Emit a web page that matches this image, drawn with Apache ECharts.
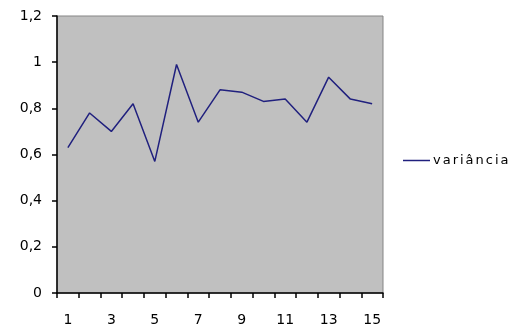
<!DOCTYPE html>
<html>
<head>
<meta charset="utf-8">
<script src="https://cdn.jsdelivr.net/npm/echarts@6/dist/echarts.min.js"></script>
<style>
  html, body { margin: 0; padding: 0; background: #ffffff; }
  #chart { width: 515px; height: 333px; }
</style>
</head>
<body>
<div id="chart"></div>
<script>
// Sample index along the x axis
const categories = ['1','2','3','4','5','6','7','8','9','10','11','12','13','14','15'];
// Variance per sample
const seriesName = 'variância';
const varianceValues = [0.63, 0.78, 0.70, 0.82, 0.57, 0.99, 0.74, 0.88, 0.87, 0.83, 0.84, 0.74, 0.935, 0.84, 0.82];
// Value axis range and step
const yMin = 0, yMax = 1.2, yStep = 0.2;

// Wrap each character in its own rich token so the legend letters can be spaced out
const spaced = (str, style) => String(str).split('').map(c => '{' + style + '|' + c + '}').join('');

const FONT = 'DejaVu Sans, Verdana, sans-serif';

const chart = echarts.init(document.getElementById('chart'), null, { renderer: 'canvas' });
chart.setOption({
  animation: false,
  backgroundColor: '#ffffff',
  textStyle: { fontFamily: FONT },
  grid: {
    left: 57, top: 16, width: 326, height: 277,
    show: true, backgroundColor: '#c0c0c0',
    borderColor: '#858585', borderWidth: 1
  },
  legend: {
    show: true,
    left: 398, top: 149,
    orient: 'vertical',
    icon: 'rect',
    itemWidth: 27, itemHeight: 1.5,
    itemGap: 0,
    formatter: name => spaced(name, 'l'),
    textStyle: {
      color: '#000000', fontSize: 13, fontFamily: FONT, padding: [0, 0, 0, -3],
      rich: { l: { fontSize: 13, fontFamily: FONT, color: '#000000', padding: [0, 1, 0, 1] } }
    },
    data: [seriesName]
  },
  xAxis: {
    type: 'category',
    data: categories,
    boundaryGap: true,
    axisLine: { show: true, lineStyle: { color: '#000000', width: 1.5 } },
    axisTick: { show: true, length: 5, inside: false, interval: 0, lineStyle: { color: '#000000', width: 1.5 } },
    axisLabel: { interval: 1, margin: 20, color: '#000000', fontSize: 14, fontFamily: FONT },
    splitLine: { show: false }
  },
  yAxis: {
    type: 'value',
    min: yMin, max: yMax, interval: yStep,
    axisLine: { show: true, lineStyle: { color: '#000000', width: 1.5 } },
    axisTick: { show: true, length: 5, lineStyle: { color: '#000000', width: 1.5 } },
    axisLabel: {
      margin: 15, color: '#000000', fontSize: 14, fontFamily: FONT,
      formatter: v => String(Math.round(v * 10) / 10).replace('.', ',')
    },
    splitLine: { show: false }
  },
  series: [{
    name: seriesName,
    type: 'line',
    data: varianceValues,
    symbol: 'none',
    lineStyle: { color: '#20207e', width: 1.5 },
    itemStyle: { color: '#20207e' }
  }]
});
</script>
</body>
</html>
